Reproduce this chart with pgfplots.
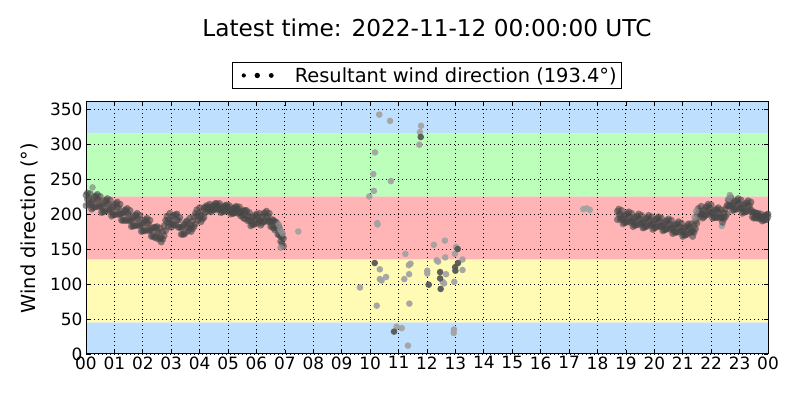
\documentclass[border=0pt]{standalone}
\usepackage{fontspec}
\setmainfont{DejaVu Sans}
\usepackage{pgfplots}
\usepackage{pgfplotstable}
\pgfplotsset{compat=1.18}
\definecolor{bandblue}{RGB}{190,224,254}
\definecolor{bandgreen}{RGB}{187,255,187}
\definecolor{bandred}{RGB}{255,180,181}
\definecolor{bandyellow}{RGB}{255,251,181}
\pgfplotstableread{
t a b
0.00 227 212
0.05 221 230
0.10 213 223
0.15 229 215
0.20 216 207
0.25 209 220
0.30 224 210
0.35 226 211
0.40 219 228
0.45 210 220
0.50 225 211
0.55 211 202
0.60 203 214
0.65 218 204
0.70 220 205
0.75 213 222
0.80 204 214
0.85 220 206
0.90 206 197
0.95 199 210
1.00 213 199
1.05 215 200
1.10 208 217
1.15 199 209
1.20 214 200
1.25 200 191
1.30 191 202
1.35 205 191
1.40 206 191
1.45 199 208
1.50 190 200
1.55 205 191
1.60 191 182
1.65 183 194
1.70 197 183
1.75 199 184
1.80 192 201
1.85 183 193
1.90 198 184
1.95 184 175
2.00 176 187
2.05 190 176
2.10 192 177
2.15 185 194
2.20 176 186
2.25 191 177
2.30 177 168
2.35 169 180
2.40 181 167
2.45 181 166
2.50 173 182
2.55 164 174
2.60 180 166
2.65 166 160
2.70 164 175
2.75 183 169
2.80 191 176
2.85 188 197
2.90 182 192
2.95 201 187
3.00 190 181
3.05 185 196
3.10 198 184
3.15 199 184
3.20 191 200
3.25 181 191
3.30 195 181
3.35 180 171
3.40 171 182
3.45 185 171
3.50 188 173
3.55 181 190
3.60 176 186
3.65 194 180
3.70 184 175
3.75 179 190
3.80 196 182
3.85 201 186
3.90 197 206
3.95 191 201
4.00 209 195
4.05 198 189
4.10 193 204
4.15 209 195
4.20 210 202
4.25 208 212
4.30 204 210
4.35 214 206
4.40 208 203
4.45 205 211
4.50 213 206
4.55 215 207
4.60 211 215
4.65 206 212
4.70 215 207
4.75 207 202
4.80 203 209
4.85 211 204
4.90 212 204
4.95 209 213
5.00 204 210
5.05 212 204
5.10 205 200
5.15 201 207
5.20 208 201
5.25 210 202
5.30 207 211
5.35 201 207
5.40 210 202
5.45 202 197
5.50 198 204
5.55 205 194
5.60 205 193
5.65 197 205
5.70 190 198
5.75 202 191
5.80 190 183
5.85 185 194
5.90 196 185
5.95 198 186
6.00 192 200
6.05 187 195
6.10 201 190
6.15 191 184
6.20 187 196
6.25 200 189
6.30 202 190
6.35 196 204
6.40 189 197
6.45 201 190
6.50 189 182
6.55 183 192
6.60 191 180
6.65 189 177
6.70 180 188
6.75 171 179
6.80 181 170
6.85 168 161
6.90 158 167
6.95 165 154
18.70 204 192
18.75 199 207
18.80 192 200
18.85 205 194
18.90 193 186
18.95 188 197
19.00 199 188
19.05 201 189
19.10 195 203
19.15 188 196
19.20 201 190
19.25 189 182
19.30 184 193
19.35 195 184
19.40 197 185
19.45 192 200
19.50 185 193
19.55 198 187
19.60 187 180
19.65 181 190
19.70 193 182
19.75 195 183
19.80 190 198
19.85 184 192
19.90 196 185
19.95 185 178
20.00 180 189
20.05 192 181
20.10 194 182
20.15 188 196
20.20 182 190
20.25 194 183
20.30 183 176
20.35 177 186
20.40 189 178
20.45 191 179
20.50 185 193
20.55 178 186
20.60 191 180
20.65 179 172
20.70 174 183
20.75 185 174
20.80 186 174
20.85 181 189
20.90 174 182
20.95 187 176
21.00 175 168
21.05 170 179
21.10 181 170
21.15 183 171
21.20 178 186
21.25 173 181
21.30 186 175
21.35 175 168
21.40 174 183
21.45 190 179
21.50 199 187
21.55 200 208
21.60 196 204
21.65 211 200
21.70 201 194
21.75 196 205
21.80 209 198
21.85 211 199
21.90 206 214
21.95 200 208
22.00 213 202
22.05 201 194
22.10 195 204
22.15 206 195
22.20 207 195
22.25 201 209
22.30 194 202
22.35 206 195
22.40 195 188
22.45 193 202
22.50 207 196
22.55 212 200
22.60 212 220
22.65 211 219
22.70 223 212
22.75 212 205
22.80 206 215
22.85 218 207
22.90 219 207
22.95 214 222
23.00 207 215
23.05 220 209
23.10 208 201
23.15 203 212
23.20 214 203
23.25 216 204
23.30 211 219
23.35 204 212
23.40 217 206
23.45 203 196
23.50 194 203
23.55 201 195
23.60 201 194
23.65 197 201
23.70 193 197
23.75 200 194
23.80 194 190
23.85 191 196
23.90 198 192
23.95 199 192
24.00 196 200
}\dense
\pgfplotstableread{
t v
0.23 238
6.78 185
6.82 178
6.88 175
6.92 172
6.85 152
21.42 195
21.47 204
22.62 222
22.66 227
}\extra
\pgfplotstableread{
t v
7.47 175
9.64 95
9.97 225
10.11 257
10.13 233
10.17 288
10.23 69
10.25 187
10.26 185
10.32 342
10.34 121
10.34 107
10.40 105
10.56 110
10.70 333
10.73 247
10.93 39
11.11 37
11.20 107
11.24 143
11.33 12
11.36 127
11.37 114
11.38 72
11.42 129
11.73 299
11.75 317
11.79 326
12.01 119
12.01 115
12.24 156
12.34 134
12.39 132
12.55 103
12.60 101
12.63 162
12.64 138
12.67 114
12.95 35
12.94 30
12.96 103
12.98 143
13.02 153
13.25 135
13.25 120
17.50 207
17.62 208
17.73 206
22.38 183
}\light
\pgfplotstableread{
t v
10.16 130
10.84 32
11.78 310
12.06 99
12.46 117
12.46 108
12.48 93
12.99 124
13.00 119
13.08 150
13.09 130
}\darkpts
\begin{document}
\begin{tikzpicture}
\path (0bp,0bp) rectangle (800bp,400bp);
\begin{axis}[
  at={(86bp,46bp)}, anchor=south west,
  scale only axis, width=682bp, height=252bp,
  set layers,
  xmin=0, xmax=24, ymin=0, ymax=360,
  xtick={0,1,...,24},
  xticklabels={00,01,02,03,04,05,06,07,08,09,10,11,12,13,14,15,16,17,18,19,20,21,22,23,00},
  ytick={0,50,...,350},
  /pgf/number format/assume math mode=true,
  ticklabel style={font=\fontsize{17}{20}\selectfont},
  xticklabel style={yshift=1bp},
  grid=major,
  grid style={black, line width=0.9bp, dash pattern=on 1bp off 3bp},
  tick align=inside,
  major tick length=4bp,
  tick style={black, line width=0.8bp},
  axis line style={black, line width=1bp},
  ylabel={Wind direction (°)},
  every axis y label/.style={at={(axis description cs:-0.0828,0.5)}, rotate=90, anchor=center, font=\fontsize{19.4}{22}\selectfont},
  title={Latest time: 2022-11-12 00:00:00 UTC},
  title style={font=\fontsize{23.3}{26}\selectfont, at={(axis description cs:0.5,1)}, anchor=base, yshift=60bp},
  legend style={at={(axis description cs:0.5,1)}, anchor=south, yshift=13bp,
    draw=black, line width=0.8bp, fill=white, font=\fontsize{19.5}{22}\selectfont,
    nodes={inner sep=0pt}, column sep=0pt,
    inner xsep=5bp, inner ysep=5bp},
  legend cell align=left,
  legend image code/.code={
    \fill[black, draw opacity=0] (0bp,0bp) circle (2.1bp);
    \fill[black, draw opacity=0] (13.5bp,0bp) circle (2.7bp);
    \fill[black, draw opacity=0] (27.5bp,0bp) circle (2.4bp);
    \path[draw=none, draw opacity=0, fill=none] (-6.5bp,0bp) -- (51bp,0bp);
  },
]
\addplot[on layer=axis background, draw=none, fill=bandblue, forget plot] coordinates {(0,0) (24,0) (24,45) (0,45) (0,0)};
\addplot[on layer=axis background, draw=none, fill=bandyellow, forget plot] coordinates {(0,45) (24,45) (24,135) (0,135) (0,45)};
\addplot[on layer=axis background, draw=none, fill=bandred, forget plot] coordinates {(0,135) (24,135) (24,225) (0,225) (0,135)};
\addplot[on layer=axis background, draw=none, fill=bandgreen, forget plot] coordinates {(0,225) (24,225) (24,315) (0,315) (0,225)};
\addplot[on layer=axis background, draw=none, fill=bandblue, forget plot] coordinates {(0,315) (24,315) (24,360) (0,360) (0,315)};
\addplot[only marks, mark=*, mark size=3.3bp, mark options={draw opacity=0, fill=black!36, fill opacity=0.95}, forget plot] table[x=t, y=v] {\light};
\addplot[only marks, mark=*, mark size=3.3bp, mark options={draw opacity=0, fill=black!66, fill opacity=0.95}, forget plot] table[x=t, y=v] {\darkpts};
\addplot[only marks, mark=*, mark size=3.5bp, mark options={draw opacity=0, fill=black!72, fill opacity=0.6}, forget plot] table[x=t, y=a] {\dense};
\addplot[only marks, mark=*, mark size=3.5bp, mark options={draw opacity=0, fill=black!72, fill opacity=0.6}, forget plot] table[x=t, y=b] {\dense};
\addplot[only marks, mark=*, mark size=3.3bp, mark options={draw opacity=0, fill=black!45, fill opacity=0.75}, forget plot] table[x=t, y=v] {\extra};
\addlegendimage{black, draw opacity=0}
\addlegendentry{Resultant wind direction (193.4°)}
\end{axis}
\end{tikzpicture}
\end{document}
